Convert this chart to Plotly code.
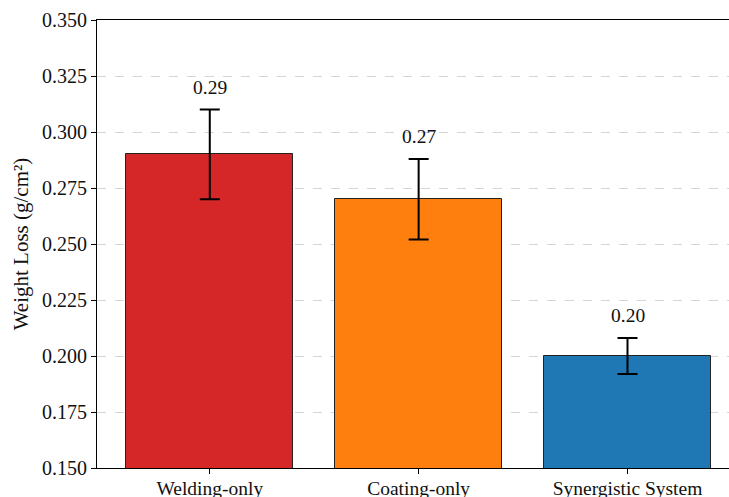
import plotly.graph_objects as go

# Weight loss per protection method
methods = ["Welding-only", "Coating-only", "Synergistic System"]
weight_loss = [0.29, 0.27, 0.20]
loss_err = [0.02, 0.018, 0.008]
bar_colors = ["#d62728", "#ff7f0e", "#1f77b4"]
y_ticks = [0.150, 0.175, 0.200, 0.225, 0.250, 0.275, 0.300, 0.325, 0.350]

FONT = "Liberation Serif, Times New Roman, serif"

fig = go.Figure()
fig.add_trace(go.Bar(
    x=list(range(len(methods))),
    y=weight_loss,
    width=0.8,
    marker=dict(color=bar_colors, line=dict(color="#222222", width=1)),
    error_y=dict(type="data", array=loss_err, visible=True,
                 color="black", thickness=2, width=10),
    showlegend=False,
))

# value labels above each error bar
for i, (v, e) in enumerate(zip(weight_loss, loss_err)):
    fig.add_annotation(x=i, y=v + e + 0.0045, text=f"{v:.2f}",
                       showarrow=False, yanchor="bottom", xanchor="center",
                       font=dict(family=FONT, size=19.5, color="#111111"))

fig.update_layout(
    width=729, height=497,
    margin=dict(l=97, r=0, t=20, b=29),
    plot_bgcolor="white", paper_bgcolor="white",
    font=dict(family=FONT, size=19, color="#111111"),
    bargap=0,
)
fig.update_xaxes(
    range=[-0.54, 2.486], automargin=False,
    tickmode="array", tickvals=list(range(len(methods))), ticktext=methods,
    ticks="outside", ticklen=5, tickwidth=1, tickcolor="black",
    ticklabelstandoff=-3,
    showline=True, linecolor="black", linewidth=1.2, mirror=True,
    showgrid=False, zeroline=False,
    tickfont=dict(family=FONT, size=19.5, color="#111111"),
)
fig.update_yaxes(
    range=[0.15, 0.35], automargin=False,
    tickmode="array", tickvals=y_ticks,
    ticktext=[f"{t:.3f}" for t in y_ticks],
    ticks="outside", ticklen=5, tickwidth=1, tickcolor="black",
    showline=True, linecolor="black", linewidth=1.2, mirror=False,
    showgrid=True, gridcolor="#d6d6d6", griddash="dash", gridwidth=1,
    zeroline=False,
    title=dict(text="Weight Loss (g/cm²)", standoff=7,
               font=dict(family=FONT, size=21, color="#111111")),
    tickfont=dict(family=FONT, size=20, color="#111111"),
)

fig.write_html("out.html")
